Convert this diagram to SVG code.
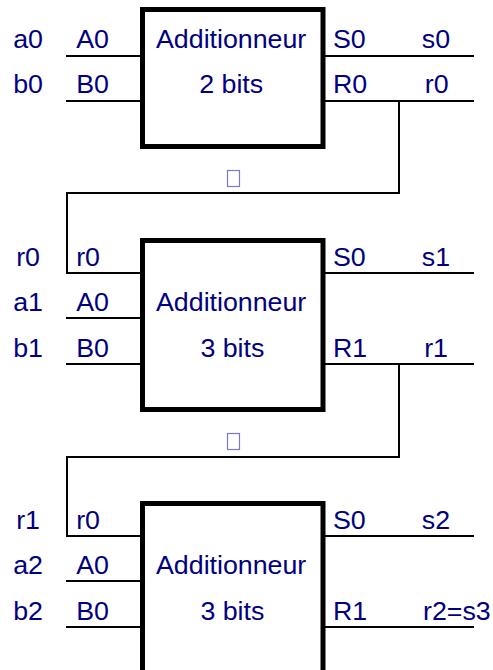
<svg xmlns="http://www.w3.org/2000/svg" width="493" height="670" viewBox="0 0 493 670">
<style>
.box{fill:none;stroke:#000;stroke-width:5}
.w{fill:none;stroke:#000;stroke-width:2}
.t{font-family:"Liberation Sans",Arial,sans-serif;font-size:25.5px;fill:#000080}
.tofu{fill:none;stroke:#7878cc;stroke-width:1.2}
</style>
<rect width="493" height="670" fill="#fff"/>
<g id="connectors">
<path class="w" d="M66 56H140M66 101H140M325 56H474M325 101H474"/>
<path class="w" d="M399 101V193H67V273H140"/>
<path class="w" d="M66 318H140M66 364H140M325 273H474M325 364H474"/>
<path class="w" d="M399 364V457H67V536H140"/>
<path class="w" d="M66 581H140M66 627H140M325 536H474M325 627H474"/>
</g>
<g id="add1">
<rect class="box" x="142.5" y="9.5" width="180.5" height="137"/>
<g transform="scale(1.05,1)">
<text class="t" x="148.6" y="48">Additionneur</text>
<text class="t" x="189.7" y="93">2 bits</text>
</g>
</g>
<g id="add2">
<rect class="box" x="142.5" y="240.5" width="180.5" height="169"/>
<g transform="scale(1.05,1)">
<text class="t" x="148.6" y="311">Additionneur</text>
<text class="t" x="190.9" y="357">3 bits</text>
</g>
</g>
<g id="add3">
<rect class="box" x="142.5" y="503.5" width="180.5" height="180"/>
<g transform="scale(1.05,1)">
<text class="t" x="148.6" y="574">Additionneur</text>
<text class="t" x="190.9" y="620">3 bits</text>
</g>
</g>
<g id="labels" transform="scale(1.05,1)">
<text class="t" x="12.6" y="48">a0</text>
<text class="t" x="72.6" y="48">A0</text>
<text class="t" x="317.1" y="48">S0</text>
<text class="t" x="401.7" y="48">s0</text>
<text class="t" x="12.6" y="93">b0</text>
<text class="t" x="72.6" y="93">B0</text>
<text class="t" x="317.1" y="93">R0</text>
<text class="t" x="404.6" y="93">r0</text>

<text class="t" x="15.4" y="266">r0</text>
<text class="t" x="72.6" y="266">r0</text>
<text class="t" x="12.6" y="311">a1</text>
<text class="t" x="72.6" y="311">A0</text>
<text class="t" x="12.6" y="357">b1</text>
<text class="t" x="72.6" y="357">B0</text>
<text class="t" x="317.1" y="266">S0</text>
<text class="t" x="401.7" y="266">s1</text>
<text class="t" x="317.1" y="357">R1</text>
<text class="t" x="404" y="357">r1</text>

<text class="t" x="15.4" y="529">r1</text>
<text class="t" x="72.6" y="529">r0</text>
<text class="t" x="12.6" y="574">a2</text>
<text class="t" x="72.6" y="574">A0</text>
<text class="t" x="12.6" y="620">b2</text>
<text class="t" x="72.6" y="620">B0</text>
<text class="t" x="317.1" y="529">S0</text>
<text class="t" x="401.7" y="529">s2</text>
<text class="t" x="317.1" y="620">R1</text>
<text class="t" x="402.9" y="620">r2=s3</text>
</g>
<rect class="tofu" x="227.5" y="170.5" width="12" height="16"/>
<rect class="tofu" x="227.5" y="433.5" width="12" height="16"/>
</svg>
